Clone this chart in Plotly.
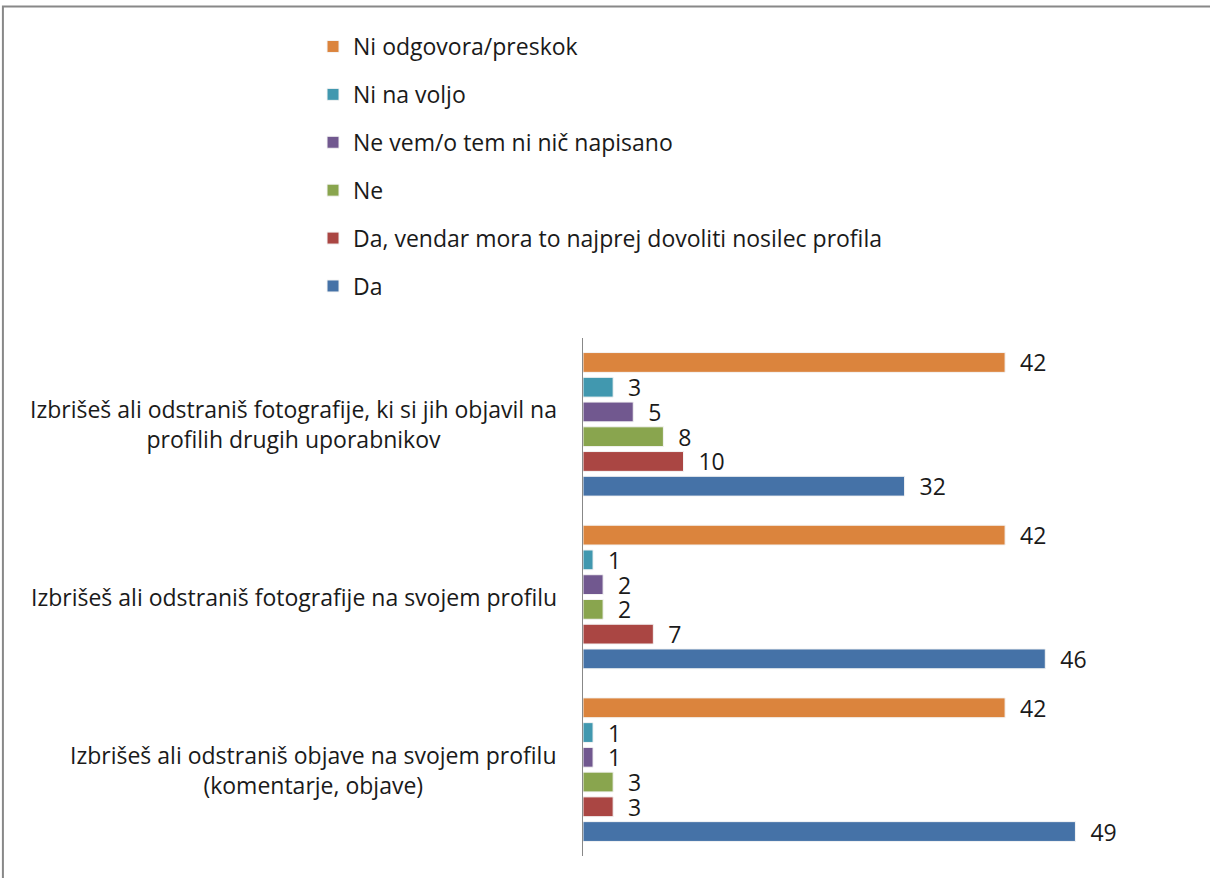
import plotly.graph_objects as go

# categories, listed bottom to top as plotly draws them
categories = [
    "Izbrišeš ali odstraniš objave na svojem profilu<br>(komentarje, objave)",
    "Izbrišeš ali odstraniš fotografije na svojem profilu",
    "Izbrišeš ali odstraniš fotografije, ki si jih objavil na<br>profilih drugih uporabnikov",
]

series_names = [
    "Da",
    "Da, vendar mora to najprej dovoliti nosilec profila",
    "Ne",
    "Ne vem/o tem ni nič napisano",
    "Ni na voljo",
    "Ni odgovora/preskok",
]

da = [49, 46, 32]
da_vendar = [3, 7, 10]
ne = [3, 2, 8]
ne_vem = [1, 2, 5]
ni_na_voljo = [1, 1, 3]
ni_odgovora = [42, 42, 42]

values = [da, da_vendar, ne, ne_vem, ni_na_voljo, ni_odgovora]
colors = ["#4572A7", "#AA4643", "#89A54E", "#71588F", "#4198AF", "#DB843D"]

FONT = "Open Sans"
FS = 23

fig = go.Figure()
for i, (name, vals, col) in enumerate(zip(series_names, values, colors)):
    fig.add_trace(go.Bar(
        y=categories, x=vals, name=name, orientation="h",
        legendgroup=name, legendrank=1000 - i,
        marker=dict(color=col, line=dict(color="#f4f4f4", width=1)),
        text=vals, texttemplate="\u00a0\u00a0%{x}",
        textposition="outside", cliponaxis=False, constraintext="none",
        textfont=dict(family=FONT, size=FS, color="#1a1a1a"),
    ))

# category labels, centred lines, left of the axis
for cat in categories:
    fig.add_annotation(
        x=0, xref="paper", y=cat, yref="y", text=cat,
        xanchor="right", align="center", showarrow=False, xshift=-24,
        font=dict(family=FONT, size=FS, color="#1a1a1a"),
    )

# outer frame (top and left edges visible)
fig.add_shape(type="rect", xref="paper", yref="paper",
              x0=-0.962, x1=1.06, y0=-0.08, y1=1.64,
              line=dict(color="#888888", width=2), layer="below")

fig.update_layout(
    width=1210, height=878,
    margin=dict(l=583, r=24, t=338, b=22, autoexpand=False),
    barmode="group", bargap=0.14, bargroupgap=0.2,
    plot_bgcolor="white", paper_bgcolor="white",
    font=dict(family=FONT, size=FS, color="#1a1a1a"),
    showlegend=True,
    legend=dict(
        traceorder="grouped", xref="container", yref="container",
        x=0.2587, y=0.9715, xanchor="left", yanchor="top",
        font=dict(family=FONT, size=FS, color="#1a1a1a"),
        tracegroupgap=15, itemwidth=30,
    ),
    xaxis=dict(range=[0, 60], visible=False, showgrid=False),
    yaxis=dict(showticklabels=False, showgrid=False, ticks="",
               showline=True, linecolor="#888888", linewidth=1),
)

fig.write_html("out.html", config={"displayModeBar": False},
               post_script="document.body.style.margin='0px';")
